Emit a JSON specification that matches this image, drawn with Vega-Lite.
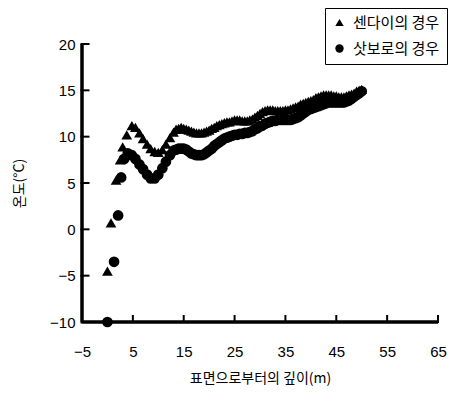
{
  "$schema": "https://vega.github.io/schema/vega-lite/v6.json",
  "autosize": {"type": "none"},
  "padding": {"left": 82, "top": 44, "right": 14, "bottom": 75},
  "width": 356,
  "height": 278,
  "background": "white",
  "config": {
    "view": {"stroke": null},
    "axis": {"grid": false, "domain": false, "ticks": true, "tickOpacity": 0, "labelColor": "black", "titleColor": "black", "labelFont": "Liberation Sans", "labelFontSize": 15, "titleFont": "Noto Sans CJK KR", "titleFontSize": 14, "titleFontWeight": "normal"},
    "legend": {"labelFont": "Noto Sans CJK KR", "labelFontSize": 15, "labelColor": "black"}
  },
  "encoding": {
    "x": {"field": "d", "type": "quantitative", "scale": {"domain": [-5, 65], "nice": false, "zero": false, "padding": 0},
      "axis": {"values": [-5, 5, 15, 25, 35, 45, 55, 65], "tickSize": 5, "labelPadding": 17, "title": "표면으로부터의 깊이(m)", "titlePadding": 12, "labelFlush": false}},
    "y": {"field": "t", "type": "quantitative", "scale": {"domain": [-10, 20], "nice": false, "zero": false, "padding": 0},
      "axis": {"values": [-10, -5, 0, 5, 10, 15, 20], "tickSize": -6, "labelPadding": 13, "title": "온도(°C)", "titlePadding": 23}}
  },
  "layer": [
    {
      "data": {"values": [{"d": -5, "t": 20, "o": 0}, {"d": -5, "t": -10, "o": 1}, {"d": 65, "t": -10, "o": 2}]},
      "mark": {"type": "line", "color": "#000000", "strokeWidth": 3, "strokeOpacity": 1, "strokeCap": "butt", "strokeJoin": "miter", "clip": false},
      "encoding": {"order": {"field": "o", "type": "quantitative"}}
    },
    {
      "data": {"values": [{"d": -5, "d2": 65, "t": -10}]},
      "mark": {"type": "bar", "orient": "horizontal", "height": 3, "color": "#000000", "opacity": 1, "clip": false},
      "encoding": {"x2": {"field": "d2"}}
    },
    {
      "data": {"values": [{"d": -5, "t": -10, "t2": 20}]},
      "mark": {"type": "bar", "orient": "vertical", "width": 3, "color": "#000000", "opacity": 1, "clip": false},
      "encoding": {"y2": {"field": "t2"}}
    },
    {
      "data": {"values": [{"d": 5, "t": -10}, {"d": 15, "t": -10}, {"d": 25, "t": -10}, {"d": 35, "t": -10}, {"d": 45, "t": -10}, {"d": 55, "t": -10}, {"d": 65, "t": -10}]},
      "mark": {"type": "tick", "orient": "vertical", "size": 8, "thickness": 2, "yOffset": -3, "color": "#000000", "opacity": 1, "clip": false}
    },
    {
      "data": {"values": [{"d": -5, "t": -5}, {"d": -5, "t": 0}, {"d": -5, "t": 5}, {"d": -5, "t": 10}, {"d": -5, "t": 15}, {"d": -5, "t": 20}]},
      "mark": {"type": "tick", "orient": "horizontal", "size": 9, "thickness": 2, "xOffset": 3, "color": "#000000", "opacity": 1, "clip": false}
    },
    {
      "data": {"values": [
        {"s": "센다이의 경우", "d": 0, "t": -4.5},
        {"s": "센다이의 경우", "d": 0.7, "t": 0.7},
        {"s": "센다이의 경우", "d": 1.7, "t": 5.3},
        {"s": "센다이의 경우", "d": 2.5, "t": 7.5},
        {"s": "센다이의 경우", "d": 3, "t": 8.9},
        {"s": "센다이의 경우", "d": 3.8, "t": 10.2},
        {"s": "센다이의 경우", "d": 4.8, "t": 11.2},
        {"s": "센다이의 경우", "d": 5.5, "t": 11.0},
        {"s": "센다이의 경우", "d": 6.3, "t": 10.4},
        {"s": "센다이의 경우", "d": 7, "t": 9.8},
        {"s": "센다이의 경우", "d": 7.8, "t": 9.2},
        {"s": "센다이의 경우", "d": 8.5, "t": 8.7},
        {"s": "센다이의 경우", "d": 9.3, "t": 8.4},
        {"s": "센다이의 경우", "d": 10, "t": 8.3},
        {"s": "센다이의 경우", "d": 10.8, "t": 8.6},
        {"s": "센다이의 경우", "d": 11.5, "t": 9.2},
        {"s": "센다이의 경우", "d": 12.3, "t": 9.9},
        {"s": "센다이의 경우", "d": 13, "t": 10.5},
        {"s": "센다이의 경우", "d": 13.5, "t": 10.8},
        {"s": "센다이의 경우", "d": 14, "t": 10.9},
        {"s": "센다이의 경우", "d": 14.5, "t": 11.0},
        {"s": "센다이의 경우", "d": 15, "t": 10.9},
        {"s": "센다이의 경우", "d": 15.5, "t": 10.8},
        {"s": "센다이의 경우", "d": 16, "t": 10.7},
        {"s": "센다이의 경우", "d": 16.5, "t": 10.6},
        {"s": "센다이의 경우", "d": 17, "t": 10.5},
        {"s": "센다이의 경우", "d": 17.5, "t": 10.4},
        {"s": "센다이의 경우", "d": 18, "t": 10.4},
        {"s": "센다이의 경우", "d": 18.5, "t": 10.4},
        {"s": "센다이의 경우", "d": 19, "t": 10.5},
        {"s": "센다이의 경우", "d": 19.5, "t": 10.6},
        {"s": "센다이의 경우", "d": 20, "t": 10.7},
        {"s": "센다이의 경우", "d": 20.5, "t": 10.9},
        {"s": "센다이의 경우", "d": 21, "t": 11.0},
        {"s": "센다이의 경우", "d": 21.5, "t": 11.2},
        {"s": "센다이의 경우", "d": 22, "t": 11.3},
        {"s": "센다이의 경우", "d": 22.5, "t": 11.4},
        {"s": "센다이의 경우", "d": 23, "t": 11.5},
        {"s": "센다이의 경우", "d": 23.5, "t": 11.6},
        {"s": "센다이의 경우", "d": 24, "t": 11.6},
        {"s": "센다이의 경우", "d": 24.5, "t": 11.7},
        {"s": "센다이의 경우", "d": 25, "t": 11.8},
        {"s": "센다이의 경우", "d": 25.5, "t": 11.8},
        {"s": "센다이의 경우", "d": 26, "t": 11.8},
        {"s": "센다이의 경우", "d": 26.5, "t": 11.7},
        {"s": "센다이의 경우", "d": 27, "t": 11.7},
        {"s": "센다이의 경우", "d": 27.5, "t": 11.7},
        {"s": "센다이의 경우", "d": 28, "t": 11.8},
        {"s": "센다이의 경우", "d": 28.5, "t": 11.9},
        {"s": "센다이의 경우", "d": 29, "t": 12.1},
        {"s": "센다이의 경우", "d": 29.5, "t": 12.3},
        {"s": "센다이의 경우", "d": 30, "t": 12.5},
        {"s": "센다이의 경우", "d": 30.5, "t": 12.7},
        {"s": "센다이의 경우", "d": 31, "t": 12.8},
        {"s": "센다이의 경우", "d": 31.5, "t": 12.9},
        {"s": "센다이의 경우", "d": 32, "t": 12.9},
        {"s": "센다이의 경우", "d": 32.5, "t": 12.9},
        {"s": "센다이의 경우", "d": 33, "t": 12.8},
        {"s": "센다이의 경우", "d": 33.5, "t": 12.8},
        {"s": "센다이의 경우", "d": 34, "t": 12.8},
        {"s": "센다이의 경우", "d": 34.5, "t": 12.8},
        {"s": "센다이의 경우", "d": 35, "t": 12.9},
        {"s": "센다이의 경우", "d": 35.5, "t": 12.9},
        {"s": "센다이의 경우", "d": 36, "t": 13.0},
        {"s": "센다이의 경우", "d": 36.5, "t": 13.1},
        {"s": "센다이의 경우", "d": 37, "t": 13.2},
        {"s": "센다이의 경우", "d": 37.5, "t": 13.3},
        {"s": "센다이의 경우", "d": 38, "t": 13.5},
        {"s": "센다이의 경우", "d": 38.5, "t": 13.6},
        {"s": "센다이의 경우", "d": 39, "t": 13.7},
        {"s": "센다이의 경우", "d": 39.5, "t": 13.8},
        {"s": "센다이의 경우", "d": 40, "t": 13.9},
        {"s": "센다이의 경우", "d": 40.5, "t": 14.0},
        {"s": "센다이의 경우", "d": 41, "t": 14.2},
        {"s": "센다이의 경우", "d": 41.5, "t": 14.3},
        {"s": "센다이의 경우", "d": 42, "t": 14.4},
        {"s": "센다이의 경우", "d": 42.5, "t": 14.5},
        {"s": "센다이의 경우", "d": 43, "t": 14.5},
        {"s": "센다이의 경우", "d": 43.5, "t": 14.5},
        {"s": "센다이의 경우", "d": 44, "t": 14.5},
        {"s": "센다이의 경우", "d": 44.5, "t": 14.4},
        {"s": "센다이의 경우", "d": 45, "t": 14.4},
        {"s": "센다이의 경우", "d": 45.5, "t": 14.3},
        {"s": "센다이의 경우", "d": 46, "t": 14.3},
        {"s": "센다이의 경우", "d": 46.5, "t": 14.3},
        {"s": "센다이의 경우", "d": 47, "t": 14.4},
        {"s": "센다이의 경우", "d": 47.5, "t": 14.5},
        {"s": "센다이의 경우", "d": 48, "t": 14.6},
        {"s": "센다이의 경우", "d": 48.5, "t": 14.7},
        {"s": "센다이의 경우", "d": 49, "t": 14.9},
        {"s": "센다이의 경우", "d": 49.5, "t": 15.0},
        {"s": "센다이의 경우", "d": 50, "t": 15.1},
        {"s": "삿보로의 경우", "d": 0, "t": -10},
        {"s": "삿보로의 경우", "d": 1.3, "t": -3.5},
        {"s": "삿보로의 경우", "d": 2.1, "t": 1.5},
        {"s": "삿보로의 경우", "d": 2.7, "t": 5.6},
        {"s": "삿보로의 경우", "d": 3.3, "t": 7.6},
        {"s": "삿보로의 경우", "d": 4, "t": 8.2},
        {"s": "삿보로의 경우", "d": 4.8, "t": 8.0},
        {"s": "삿보로의 경우", "d": 5.5, "t": 7.6},
        {"s": "삿보로의 경우", "d": 6.3, "t": 7.0},
        {"s": "삿보로의 경우", "d": 7, "t": 6.5},
        {"s": "삿보로의 경우", "d": 7.8, "t": 5.9},
        {"s": "삿보로의 경우", "d": 8.5, "t": 5.5},
        {"s": "삿보로의 경우", "d": 9.3, "t": 5.5},
        {"s": "삿보로의 경우", "d": 10, "t": 5.9},
        {"s": "삿보로의 경우", "d": 10.8, "t": 6.6},
        {"s": "삿보로의 경우", "d": 11.5, "t": 7.3},
        {"s": "삿보로의 경우", "d": 12.3, "t": 8.0},
        {"s": "삿보로의 경우", "d": 13, "t": 8.5},
        {"s": "삿보로의 경우", "d": 13.5, "t": 8.6},
        {"s": "삿보로의 경우", "d": 14, "t": 8.7},
        {"s": "삿보로의 경우", "d": 14.5, "t": 8.7},
        {"s": "삿보로의 경우", "d": 15, "t": 8.7},
        {"s": "삿보로의 경우", "d": 15.5, "t": 8.6},
        {"s": "삿보로의 경우", "d": 16, "t": 8.4},
        {"s": "삿보로의 경우", "d": 16.5, "t": 8.2},
        {"s": "삿보로의 경우", "d": 17, "t": 8.1},
        {"s": "삿보로의 경우", "d": 17.5, "t": 8.0},
        {"s": "삿보로의 경우", "d": 18, "t": 8.0},
        {"s": "삿보로의 경우", "d": 18.5, "t": 8.0},
        {"s": "삿보로의 경우", "d": 19, "t": 8.1},
        {"s": "삿보로의 경우", "d": 19.5, "t": 8.3},
        {"s": "삿보로의 경우", "d": 20, "t": 8.5},
        {"s": "삿보로의 경우", "d": 20.5, "t": 8.7},
        {"s": "삿보로의 경우", "d": 21, "t": 9.0},
        {"s": "삿보로의 경우", "d": 21.5, "t": 9.2},
        {"s": "삿보로의 경우", "d": 22, "t": 9.4},
        {"s": "삿보로의 경우", "d": 22.5, "t": 9.6},
        {"s": "삿보로의 경우", "d": 23, "t": 9.8},
        {"s": "삿보로의 경우", "d": 23.5, "t": 9.9},
        {"s": "삿보로의 경우", "d": 24, "t": 10.0},
        {"s": "삿보로의 경우", "d": 24.5, "t": 10.1},
        {"s": "삿보로의 경우", "d": 25, "t": 10.2},
        {"s": "삿보로의 경우", "d": 25.5, "t": 10.2},
        {"s": "삿보로의 경우", "d": 26, "t": 10.3},
        {"s": "삿보로의 경우", "d": 26.5, "t": 10.3},
        {"s": "삿보로의 경우", "d": 27, "t": 10.4},
        {"s": "삿보로의 경우", "d": 27.5, "t": 10.4},
        {"s": "삿보로의 경우", "d": 28, "t": 10.5},
        {"s": "삿보로의 경우", "d": 28.5, "t": 10.6},
        {"s": "삿보로의 경우", "d": 29, "t": 10.8},
        {"s": "삿보로의 경우", "d": 29.5, "t": 10.9},
        {"s": "삿보로의 경우", "d": 30, "t": 11.1},
        {"s": "삿보로의 경우", "d": 30.5, "t": 11.2},
        {"s": "삿보로의 경우", "d": 31, "t": 11.4},
        {"s": "삿보로의 경우", "d": 31.5, "t": 11.5},
        {"s": "삿보로의 경우", "d": 32, "t": 11.6},
        {"s": "삿보로의 경우", "d": 32.5, "t": 11.7},
        {"s": "삿보로의 경우", "d": 33, "t": 11.7},
        {"s": "삿보로의 경우", "d": 33.5, "t": 11.8},
        {"s": "삿보로의 경우", "d": 34, "t": 11.8},
        {"s": "삿보로의 경우", "d": 34.5, "t": 11.8},
        {"s": "삿보로의 경우", "d": 35, "t": 11.8},
        {"s": "삿보로의 경우", "d": 35.5, "t": 11.8},
        {"s": "삿보로의 경우", "d": 36, "t": 11.8},
        {"s": "삿보로의 경우", "d": 36.5, "t": 11.9},
        {"s": "삿보로의 경우", "d": 37, "t": 12.0},
        {"s": "삿보로의 경우", "d": 37.5, "t": 12.1},
        {"s": "삿보로의 경우", "d": 38, "t": 12.3},
        {"s": "삿보로의 경우", "d": 38.5, "t": 12.5},
        {"s": "삿보로의 경우", "d": 39, "t": 12.7},
        {"s": "삿보로의 경우", "d": 39.5, "t": 12.9},
        {"s": "삿보로의 경우", "d": 40, "t": 13.0},
        {"s": "삿보로의 경우", "d": 40.5, "t": 13.1},
        {"s": "삿보로의 경우", "d": 41, "t": 13.2},
        {"s": "삿보로의 경우", "d": 41.5, "t": 13.3},
        {"s": "삿보로의 경우", "d": 42, "t": 13.4},
        {"s": "삿보로의 경우", "d": 42.5, "t": 13.5},
        {"s": "삿보로의 경우", "d": 43, "t": 13.6},
        {"s": "삿보로의 경우", "d": 43.5, "t": 13.7},
        {"s": "삿보로의 경우", "d": 44, "t": 13.7},
        {"s": "삿보로의 경우", "d": 44.5, "t": 13.7},
        {"s": "삿보로의 경우", "d": 45, "t": 13.7},
        {"s": "삿보로의 경우", "d": 45.5, "t": 13.7},
        {"s": "삿보로의 경우", "d": 46, "t": 13.7},
        {"s": "삿보로의 경우", "d": 46.5, "t": 13.7},
        {"s": "삿보로의 경우", "d": 47, "t": 13.8},
        {"s": "삿보로의 경우", "d": 47.5, "t": 13.9},
        {"s": "삿보로의 경우", "d": 48, "t": 14.1},
        {"s": "삿보로의 경우", "d": 48.5, "t": 14.3},
        {"s": "삿보로의 경우", "d": 49, "t": 14.5},
        {"s": "삿보로의 경우", "d": 49.5, "t": 14.7},
        {"s": "삿보로의 경우", "d": 50, "t": 14.9}
      ]},
      "mark": {"type": "point", "filled": true, "color": "black", "opacity": 1, "size": 115, "clip": false},
      "encoding": {
        "shape": {"field": "s", "type": "nominal",
          "scale": {"domain": ["센다이의 경우", "삿보로의 경우"], "range": ["triangle-up", "circle"]},
          "legend": {"title": null, "orient": "none", "legendX": 243, "legendY": -36, "strokeColor": "black", "fillColor": "white", "padding": 7, "rowPadding": 10, "symbolSize": 70, "symbolFillColor": "black", "symbolStrokeWidth": 0, "labelLimit": 0, "labelOffset": 6}}
      }
    }
  ]
}
